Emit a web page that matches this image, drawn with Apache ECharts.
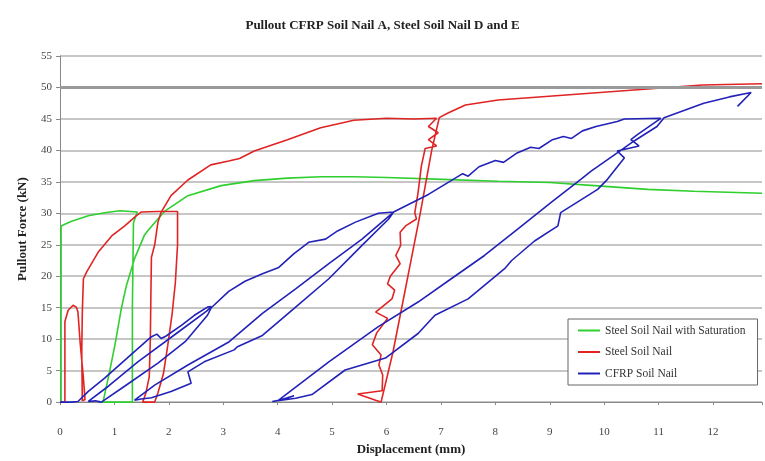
<!DOCTYPE html>
<html>
<head>
<meta charset="utf-8">
<script src="https://cdn.jsdelivr.net/npm/echarts@6/dist/echarts.min.js"></script>
<style>html,body{margin:0;padding:0;background:#fff;}#c{width:765px;height:461px;}</style>
</head>
<body>
<div id="c"></div>
<script>
const titleText = 'Pullout CFRP Soil Nail A, Steel Soil Nail D and E';
const xName = 'Displacement (mm)';
const yName = 'Pullout Force (kN)';
const seriesNames = ['Steel Soil Nail with Saturation', 'Steel Soil Nail', 'CFRP Soil Nail'];
const xTicks = [0,1,2,3,4,5,6,7,8,9,10,11,12];
const yTicks = [0,5,10,15,20,25,30,35,40,45,50,55];
const refLine = 50;

// [displacement mm, force kN]
const greenSat = [
 [0.02,0],[0.02,28],[0.2,28.7],[0.52,29.6],[0.82,30.1],[1.1,30.4],[1.42,30.2],[1.35,28.5],[1.33,15],[1.33,0],
 [0.79,0],[0.91,4.8],[1.01,9.1],[1.13,15],[1.22,18.5],[1.37,22.8],[1.55,26.5],[1.62,27.3],[1.92,30.3],[2.35,32.8],
 [2.96,34.4],[3.57,35.2],[4.18,35.6],[4.79,35.8],[5.4,35.8],[6.0,35.7],[7.04,35.4],[8.05,35.1],[9.0,34.9],[9.82,34.4],
 [10.8,33.8],[11.65,33.5],[12.9,33.2]
];

const redSteel = [
 [0,0],[0.09,0],[0.09,12.8],[0.15,14.6],[0.24,15.4],[0.3,15.1],[0.33,14.3],[0.37,9.5],[0.43,3.8],[0.46,0.4],
 [0.41,0.2],[0.4,8],[0.41,14.3],[0.43,19.6],[0.49,20.7],[0.7,23.8],[0.95,26.4],[1.19,28],[1.4,29.6],[1.49,30.2],
 [1.8,30.3],[2.16,30.3],[2.16,25],[2.12,19],[2.06,14],[1.98,9],[1.9,4.5],[1.8,1.5],[1.74,0],[1.52,0],
 [1.58,1.5],[1.64,4],[1.66,10],[1.67,17],[1.68,23],[1.74,25],[1.8,28.6],[1.86,30.2],[2.04,32.8],[2.35,35.3],
 [2.77,37.7],[3.1,38.3],[3.3,38.7],[3.57,39.9],[4.18,41.7],[4.79,43.6],[5.4,44.8],[6.0,45.1],[6.5,45.0],[6.92,45.1],
 [6.77,43.8],[6.95,42.8],[6.77,41.7],[6.92,40.7],[6.71,40.3],[6.64,37.5],[6.58,33.3],[6.52,30.1],[6.55,29.1],[6.35,28],
 [6.25,27],[6.26,24.9],[6.17,23.3],[6.25,22],[6.07,20],[6.02,18.8],[6.15,17.8],[6.1,16.4],[5.8,14.3],[6.02,13.3],
 [5.82,11],[5.74,9.1],[5.9,7.5],[5.86,5.9],[5.93,4.3],[5.92,1.8],[5.47,1.3],[5.8,0.3],[5.9,0],
 [6.12,8],[6.37,19],[6.62,30],[6.83,40],[6.97,45.2],[7.12,45.9],[7.45,47.2],[8.05,48],[9.3,48.8],[10.55,49.6],
 [11.8,50.4],[12.9,50.6]
];

const blueCfrp = [
 [0,0],[0.2,0],[0.33,0.1],[0.52,1.7],[0.82,3.8],[1.13,6.2],[1.43,8.5],[1.68,10.4],[1.78,10.8],[1.86,10.1],
 [1.95,10.5],[2.23,12.2],[2.47,13.8],[2.71,15.1],[2.78,15.2],
 [2.7,14.5],[2.2,11.3],[1.43,6.4],[0.9,2.6],[0.52,0.1],[0.65,0.2],[0.76,0],
 [1.2,2.6],[1.8,6.2],[2.3,9.6],[2.71,13.8],[2.78,15.0],
 [3.1,17.6],[3.4,19.2],[3.72,20.4],[4.02,21.4],[4.3,23.6],[4.57,25.4],[4.88,25.9],[5.1,27.2],[5.43,28.6],[5.85,30],[6.13,30.2],
 [5.55,25.9],[4.94,22],[4.33,18],[3.72,14.1],[3.11,9.6],[2.35,5.9],[1.74,2.7],[1.37,0.3],[1.49,0.5],[1.68,0.7],
 [2.04,1.7],[2.41,3],[2.35,4.8],[2.65,6.4],[3.2,8.3],[3.26,8.8],[3.72,10.6],[4.33,15.1],[4.94,19.6],[5.55,24.9],[6.04,29.1],[6.13,30.2],
 [6.77,33],[7.4,36.3],[7.5,35.9],[7.7,37.4],[8.0,38.4],[8.15,38.1],[8.4,39.6],[8.65,40.5],[8.8,40.3],[9.05,41.7],
 [9.25,42.2],[9.4,41.9],[9.6,43.1],[9.85,43.8],[10.24,44.6],[10.37,45],[11.04,45.1],
 [10.61,42.5],[10.49,41.7],[10.64,40.7],[10.24,39.9],[10.37,38.8],[10.06,35.4],[9.88,33.8],[9.2,30.1],[9.15,28],
 [8.72,25.6],[8.3,22.5],[8.17,21.2],[7.5,16.4],[6.89,13.8],[6.58,10.9],[5.98,7],[5.24,5.1],[4.63,1.2],[4.33,0.6],[3.9,0.1],
 [4.1,0.4],[4.3,1],[4.0,0.2],
 [4.94,6.4],[5.85,12],[6.58,15.9],[7.19,19.6],[7.8,23.3],[8.41,27.5],[9.02,31.7],[9.57,35.4],[9.76,36.7],[10.24,39.6],
 [10.55,41.5],[10.97,43.8],[11.1,45.2],[11.83,47.5],[12.3,48.5],[12.7,49.2],[12.45,47]
];

const serif = 'Liberation Serif';
const colors = ['#2fcf2f', '#e02424', '#2222b8'];
const chart = echarts.init(document.getElementById('c'), null, {renderer: 'canvas'});
const mk = (name, data, color) => ({
  name, type: 'line', data, showSymbol: false, symbol: 'none', smooth: false,
  lineStyle: {color, width: 1.6}, itemStyle: {color}, animation: false
});
const s0 = mk(seriesNames[0], greenSat, colors[0]);
s0.markLine = {silent: true, symbol: 'none', label: {show: false},
  lineStyle: {color: '#9a9a9a', width: 3, type: 'solid'}, data: [{yAxis: refLine}]};
chart.setOption({
  animation: false,
  backgroundColor: '#fff',
  title: {text: titleText, left: 'center', top: 14,
    textStyle: {fontFamily: serif, fontWeight: 'bold', fontSize: 13, color: '#222'}},
  grid: {left: 60, right: 1, top: 56, bottom: 57, containLabel: false},
  legend: {orient: 'vertical', left: 568, top: 319, padding: [5, 12, 5, 10], itemGap: 8.5,
    itemWidth: 22, itemHeight: 2, icon: 'rect', borderColor: '#666', borderWidth: 1,
    backgroundColor: '#fff',
    textStyle: {fontFamily: serif, fontSize: 11.5, color: '#333', lineHeight: 13},
    data: seriesNames},
  xAxis: {type: 'value', min: 0, max: 12.9, interval: 1,
    name: xName, nameLocation: 'middle', nameGap: 37,
    nameTextStyle: {fontFamily: serif, fontWeight: 'bold', fontSize: 13, color: '#222'},
    axisLine: {lineStyle: {color: '#888'}},
    axisTick: {show: true, length: 3, inside: false, lineStyle: {color: '#888'}},
    axisLabel: {fontFamily: serif, fontSize: 11, color: '#444', margin: 25,
      formatter: v => xTicks.includes(v) ? String(v) : ''},
    splitLine: {show: false}},
  yAxis: {type: 'value', min: 0, max: 55, interval: 5,
    name: yName, nameLocation: 'middle', nameGap: 31, nameRotate: 90,
    nameTextStyle: {fontFamily: serif, fontWeight: 'bold', fontSize: 13, color: '#222'},
    axisLine: {show: true, lineStyle: {color: '#888'}},
    axisTick: {show: true, length: 4, lineStyle: {color: '#888'}},
    axisLabel: {fontFamily: serif, fontSize: 11, color: '#444', margin: 8,
      formatter: v => yTicks.includes(v) ? String(v) : ''},
    splitLine: {show: true, lineStyle: {color: '#c6c6c6', width: 2}}},
  series: [s0, mk(seriesNames[1], redSteel, colors[1]), mk(seriesNames[2], blueCfrp, colors[2])]
});
</script>
</body>
</html>
